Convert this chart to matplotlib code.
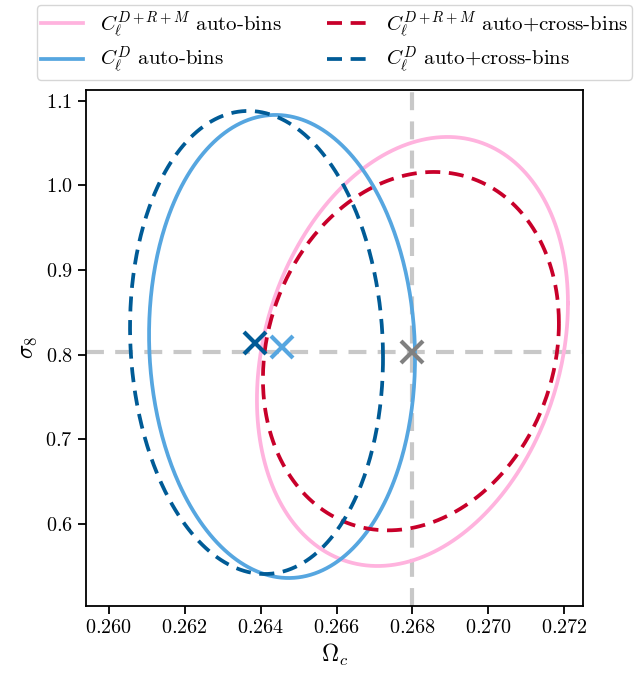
import numpy as np
import matplotlib
matplotlib.use("Agg")
import matplotlib.pyplot as plt

plt.rcParams['font.family'] = 'serif'
plt.rcParams['font.serif'] = ['cmr10']
plt.rcParams['mathtext.fontset'] = 'cm'
plt.rcParams['axes.formatter.use_mathtext'] = True
plt.rcParams['font.size'] = 14.5

# contours: centre, half-widths in x / y, correlation
labels = [r'$C_\ell^{D+R+M}$ auto-bins', r'$C_\ell^{D+R+M}$ auto+cross-bins',
          r'$C_\ell^{D}$ auto-bins', r'$C_\ell^{D}$ auto+cross-bins']
cx = [0.26800, 0.26796, 0.264565, 0.263893]
cy = [0.80376, 0.80414, 0.80967, 0.81438]
wx = [0.004096, 0.003898, 0.003503, 0.003332]
wy = [0.25336, 0.21164, 0.27345, 0.27344]
rho = [0.225, 0.155, -0.05, -0.065]
colors = ['#ffb3de', '#c8002a', '#56a6e0', '#005b96']
dashed = [False, True, False, True]

# best-fit points
mark_x = [0.264557, 0.263853]
mark_y = [0.80943, 0.81344]
mark_c = ['#56a6e0', '#005b96']

fid_x = 0.268
fid_y = 0.8028


def main():
	fig = plt.figure(figsize=(6.34, 6.73), dpi=100)
	ax = fig.add_axes([0.1352, 0.100, 0.920 - 0.1352, 0.8663 - 0.100])

	ax.axvline(fid_x, color='#c8c8c8', lw=3, ls=(0, (4.3, 2.7)), zorder=1)
	ax.axhline(fid_y, color='#c8c8c8', lw=3, ls=(0, (4.3, 2.7)), zorder=1)

	t = np.linspace(0, 2 * np.pi, 400)
	for i in range(4):
		x = cx[i] + wx[i] * np.cos(t)
		y = cy[i] + wy[i] * (rho[i] * np.cos(t) + np.sqrt(1 - rho[i] ** 2) * np.sin(t))
		if dashed[i]:
			ax.plot(x, y, color=colors[i], lw=2.7, ls=(0, (4, 2.3)), label=labels[i], zorder=3)
		else:
			ax.plot(x, y, color=colors[i], lw=2.7, label=labels[i], zorder=2)

	for i in range(2):
		ax.plot(mark_x[i], mark_y[i], marker='x', ms=16, mew=3, color=mark_c[i], zorder=4)
	ax.plot(fid_x, fid_y, marker='x', ms=16, mew=3, color='#808080', zorder=4)

	ax.set_xlim(0.259394, 0.2725)
	ax.set_ylim(0.5035, 1.1126)
	ax.set_xticks([0.260, 0.262, 0.264, 0.266, 0.268, 0.270, 0.272])
	ax.set_yticks([0.6, 0.7, 0.8, 0.9, 1.0, 1.1])
	ax.tick_params(length=6, width=1.3)
	for s in ax.spines.values():
		s.set_linewidth(1.3)
	ax.set_xlabel(r'$\Omega_c$', fontsize=17)
	ax.set_ylabel(r'$\sigma_8$', fontsize=17)

	h, l = ax.get_legend_handles_labels()
	order = [0, 2, 1, 3]
	ax.legend([h[k] for k in order], [l[k] for k in order], ncol=2,
			  loc='lower center', bbox_to_anchor=(0.5, 1.0), fontsize=15,
			  borderpad=0.2, labelspacing=0.25, columnspacing=2.2)

	fig.savefig('out.png', dpi=100)


if __name__ == '__main__':
	main()
